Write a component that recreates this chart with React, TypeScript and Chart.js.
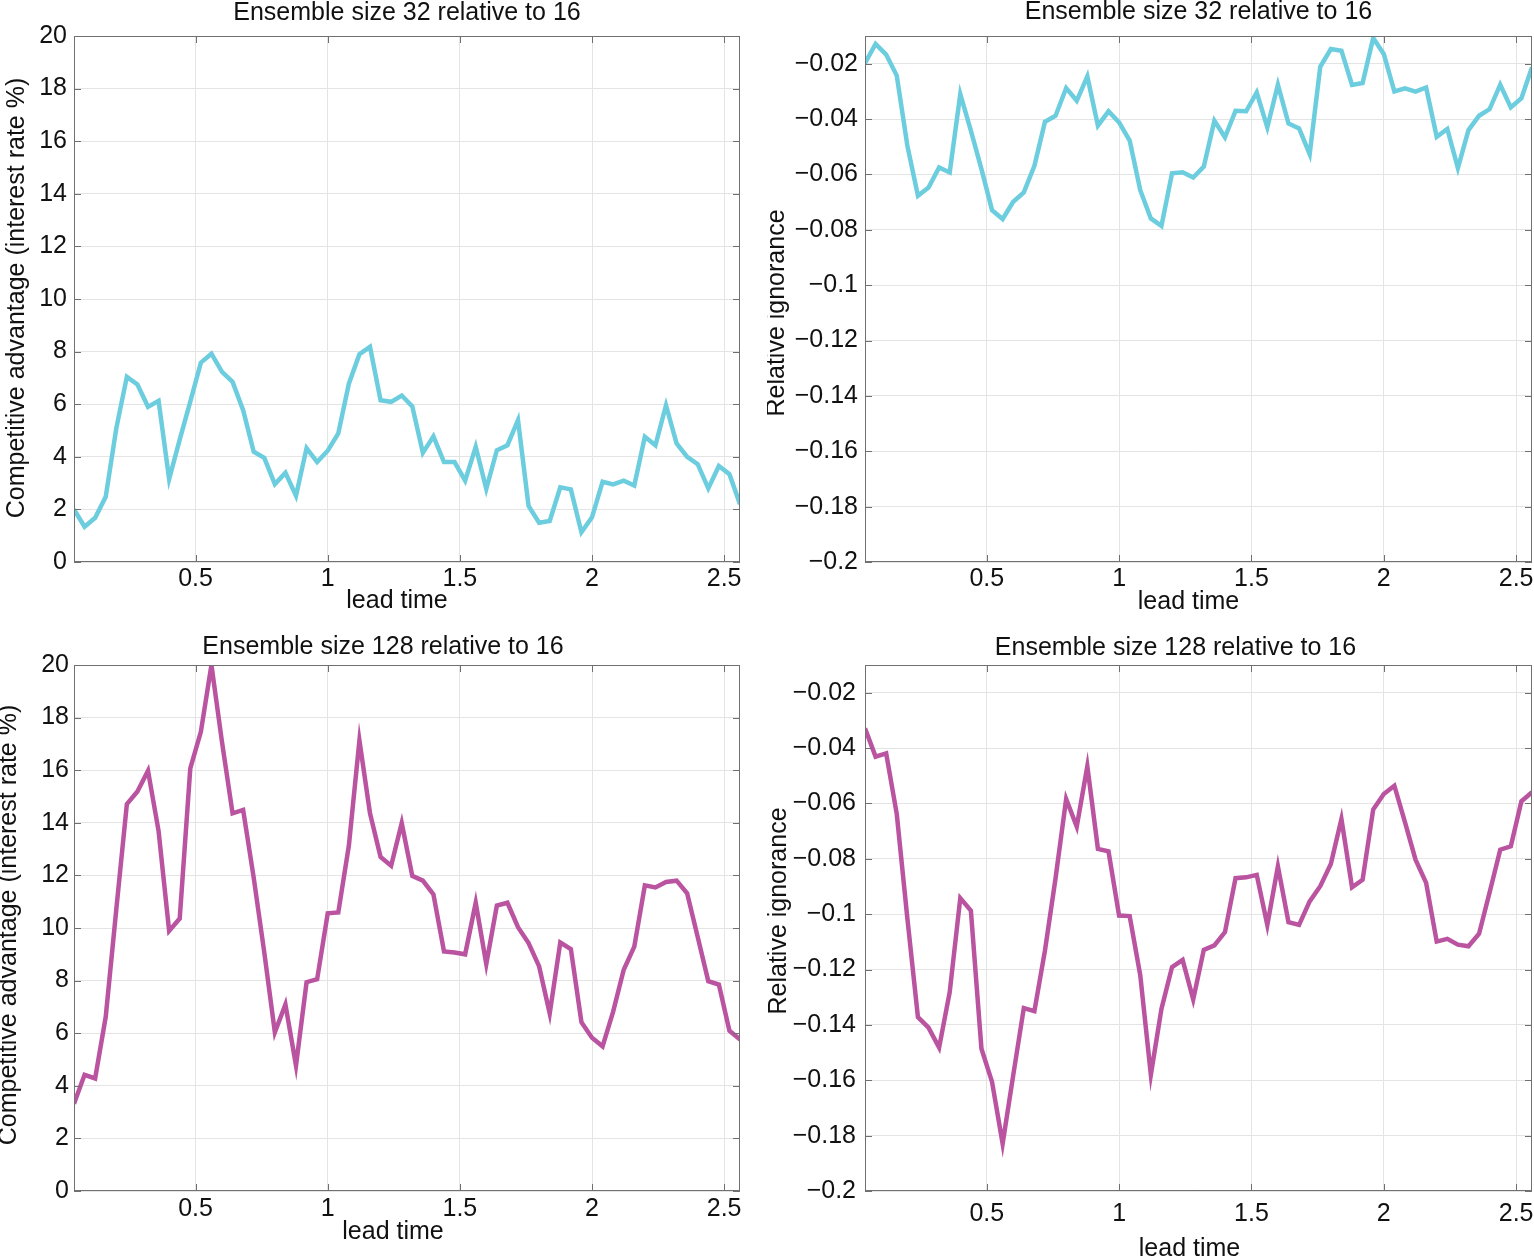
import React, { useEffect, useRef } from 'react';
import { Chart, registerables } from 'chart.js';

Chart.register(...registerables);

// ---------- data ----------
const leadTime = [
  0.04, 0.08, 0.12, 0.16, 0.2, 0.24, 0.28, 0.32, 0.36, 0.4,
  0.44, 0.48, 0.52, 0.56, 0.6, 0.64, 0.68, 0.72, 0.76, 0.8,
  0.84, 0.88, 0.92, 0.96, 1.0, 1.04, 1.08, 1.12, 1.16, 1.2,
  1.24, 1.28, 1.32, 1.36, 1.4, 1.44, 1.48, 1.52, 1.56, 1.6,
  1.64, 1.68, 1.72, 1.76, 1.8, 1.84, 1.88, 1.92, 1.96, 2.0,
  2.04, 2.08, 2.12, 2.16, 2.2, 2.24, 2.28, 2.32, 2.36, 2.4,
  2.44, 2.48, 2.52, 2.56,
];

const advantage32 = [
  2.0, 1.34, 1.68, 2.48, 5.08, 7.04, 6.75, 5.9, 6.13, 3.15,
  4.65, 6.1, 7.58, 7.92, 7.23, 6.85, 5.77, 4.19, 3.96, 2.96,
  3.39, 2.52, 4.33, 3.8, 4.23, 4.89, 6.78, 7.9, 8.18, 6.15,
  6.09, 6.33, 5.92, 4.15, 4.78, 3.8, 3.8, 3.09, 4.38, 2.78,
  4.25, 4.44, 5.39, 2.13, 1.49, 1.56, 2.84, 2.76, 1.13, 1.7,
  3.05, 2.95, 3.09, 2.91, 4.76, 4.44, 5.96, 4.51, 4.0, 3.72,
  2.8, 3.65, 3.34, 2.2,
];

const ignorance32 = [
  -0.0198, -0.0129, -0.0167, -0.0243, -0.0496, -0.0677, -0.0647, -0.0575, -0.0593, -0.031,
  -0.0442, -0.0581, -0.0729, -0.0761, -0.0699, -0.0665, -0.0569, -0.041, -0.0388, -0.0288,
  -0.0334, -0.0246, -0.0424, -0.0372, -0.0412, -0.0478, -0.0657, -0.0759, -0.0786, -0.0596,
  -0.0592, -0.0611, -0.0572, -0.0406, -0.0466, -0.037, -0.0372, -0.0304, -0.043, -0.0276,
  -0.0416, -0.0434, -0.0527, -0.0211, -0.0147, -0.0153, -0.0277, -0.027, -0.0107, -0.0165,
  -0.03, -0.0289, -0.0301, -0.0286, -0.0464, -0.0436, -0.0577, -0.044, -0.0388, -0.0364,
  -0.0276, -0.0358, -0.0325, -0.0213,
];

const advantage128 = [
  3.32, 4.42, 4.28, 6.62, 10.7, 14.71, 15.19, 15.98, 13.69, 9.89,
  10.36, 16.07, 17.46, 20.0, 17.07, 14.36, 14.49, 11.91, 9.07, 6.03,
  7.09, 4.77, 7.94, 8.05, 10.56, 10.59, 13.13, 17.13, 14.36, 12.7,
  12.37, 13.99, 11.98, 11.8, 11.28, 9.11, 9.07, 9.0, 10.96, 8.63,
  10.85, 10.96, 10.03, 9.43, 8.54, 6.75, 9.45, 9.2, 6.42, 5.83,
  5.5, 6.82, 8.41, 9.29, 11.62, 11.54, 11.75, 11.8, 11.32, 9.66,
  7.98, 7.85, 6.09, 5.76,
];

const ignorance128 = [
  -0.0329, -0.0431, -0.0419, -0.0638, -0.1015, -0.1372, -0.141, -0.1482, -0.1282, -0.0942,
  -0.0987, -0.1486, -0.1606, -0.1829, -0.1582, -0.1339, -0.135, -0.1131, -0.087, -0.0584,
  -0.0684, -0.0466, -0.0764, -0.0773, -0.1005, -0.1007, -0.1221, -0.158, -0.1342, -0.1191,
  -0.1165, -0.1308, -0.1129, -0.1113, -0.1065, -0.087, -0.0867, -0.0858, -0.1039, -0.0827,
  -0.1029, -0.1039, -0.0954, -0.0899, -0.0819, -0.0656, -0.0903, -0.0876, -0.0622, -0.0566,
  -0.0536, -0.0668, -0.0803, -0.0887, -0.1099, -0.1089, -0.111, -0.1116, -0.1071, -0.0921,
  -0.0767, -0.0755, -0.0592, -0.056,
];

const ticksLeadTime = [0.5, 1, 1.5, 2, 2.5];
const ticksAdvantage = [0, 2, 4, 6, 8, 10, 12, 14, 16, 18, 20];
const ticksIgnorance = [-0.2, -0.18, -0.16, -0.14, -0.12, -0.1, -0.08, -0.06, -0.04, -0.02];

const title32 = 'Ensemble size 32 relative to 16';
const title128 = 'Ensemble size 128 relative to 16';
const labelAdvantage = 'Competitive advantage (interest rate %)';
const labelIgnorance = 'Relative ignorance';
const labelLeadTime = 'lead time';

// ---------- styles ----------
const FONT = '"Liberation Sans", Arial, Helvetica, sans-serif';
const TEXT = '#111111';
const CYAN = '#6ccdde';
const MAGENTA = '#ba53a0';
const GRID = '#e4e4e4';
const FRAME = '#707070';
const FS = 25;

const minusFmt = (v: number) => (v < 0 ? '\u2212' + String(Math.abs(v)) : String(v));

const framePlugin = {
  id: 'frameBox',
  afterDraw(chart: any) {
    const { ctx, chartArea: a, scales } = chart;
    const xs = scales.x;
    const ys = scales.y;
    const tl = 7;
    ctx.save();
    ctx.strokeStyle = FRAME;
    ctx.lineWidth = 1;
    ctx.strokeRect(a.left + 0.5, a.top + 0.5, a.right - a.left - 1, a.bottom - a.top - 1);
    ctx.beginPath();
    xs.ticks.forEach((t: any) => {
      const px = Math.round(xs.getPixelForValue(t.value)) + 0.5;
      ctx.moveTo(px, a.bottom);
      ctx.lineTo(px, a.bottom - tl);
      ctx.moveTo(px, a.top);
      ctx.lineTo(px, a.top + tl);
    });
    ys.ticks.forEach((t: any) => {
      const py = Math.round(ys.getPixelForValue(t.value)) + 0.5;
      ctx.moveTo(a.left, py);
      ctx.lineTo(a.left + tl, py);
      ctx.moveTo(a.right, py);
      ctx.lineTo(a.right - tl, py);
    });
    ctx.stroke();
    ctx.restore();
  },
};

const axisLabelPlugin = {
  id: 'axisLabels',
  afterDraw(chart: any, _args: any, opts: any) {
    const { ctx, chartArea: a } = chart;
    const cx = (a.left + a.right) / 2;
    ctx.save();
    ctx.font = `${FS}px ${FONT}`;
    ctx.fillStyle = TEXT;
    ctx.textAlign = 'center';
    ctx.textBaseline = 'middle';
    // title
    ctx.fillText(opts.title, cx + opts.titleDx, opts.titleY);
    // x-axis label
    ctx.fillText(opts.xText, cx + opts.xDx, opts.xY);
    // y-axis label
    ctx.translate(opts.yX, (a.top + a.bottom) / 2 + opts.yDy);
    ctx.rotate(-Math.PI / 2);
    ctx.fillText(opts.yText, 0, 0);
    ctx.restore();
  },
};

type PanelProps = {
  left: number; top: number; width: number; height: number;
  values: number[]; color: string;
  yMin: number; yMax: number; yTicks: number[]; yFmt: (v: number) => string;
  title: string; yLabel: string;
  yAxisWidth: number; padRight: number; padTop: number;
  titleY: number; titleDx: number;
  xAxisHeight: number; xTickPad: number;
  xLabelY: number; xLabelDx: number;
  yTickPad: number; yLabelX: number; yLabelDy: number;
};

function Panel(p: PanelProps) {
  const ref = useRef<HTMLCanvasElement | null>(null);
  useEffect(() => {
    if (!ref.current) return;
    const chart = new Chart(ref.current, {
      type: 'line',
      data: {
        datasets: [
          {
            data: leadTime.map((t, i) => ({ x: t, y: p.values[i] })),
            borderColor: p.color,
            borderWidth: 4.5,
            pointRadius: 0,
            fill: false,
            tension: 0,
          },
        ],
      },
      options: {
        animation: false,
        responsive: false,
        devicePixelRatio: 1,
        events: [],
        layout: { padding: { left: 0, right: p.padRight, top: p.padTop, bottom: 0 } },
        plugins: {
          legend: { display: false },
          tooltip: { enabled: false },
          title: { display: false },
          axisLabels: {
            title: p.title, titleY: p.titleY, titleDx: p.titleDx,
            xText: labelLeadTime, xY: p.xLabelY, xDx: p.xLabelDx,
            yText: p.yLabel, yX: p.yLabelX, yDy: p.yLabelDy,
          },
        } as any,
        scales: {
          x: {
            type: 'linear',
            min: leadTime[0],
            max: leadTime[leadTime.length - 1],
            afterBuildTicks: (s: any) => {
              s.ticks = ticksLeadTime.map((value) => ({ value }));
            },
            afterFit: (s: any) => {
              s.height = p.xAxisHeight;
              s.paddingLeft = 0;
              s.paddingRight = 0;
            },
            grid: { color: GRID, lineWidth: 1, drawTicks: false },
            border: { display: false },
            ticks: {
              color: TEXT,
              font: { family: FONT, size: FS },
              padding: p.xTickPad,
              maxRotation: 0,
              autoSkip: false,
              callback: (v: any) => String(v),
            },
          },
          y: {
            type: 'linear',
            min: p.yMin,
            max: p.yMax,
            afterBuildTicks: (s: any) => {
              s.ticks = p.yTicks.map((value) => ({ value }));
            },
            afterFit: (s: any) => {
              s.width = p.yAxisWidth;
              s.paddingTop = 0;
              s.paddingBottom = 0;
            },
            grid: { color: GRID, lineWidth: 1, drawTicks: false },
            border: { display: false },
            ticks: {
              color: TEXT,
              font: { family: FONT, size: FS },
              padding: p.yTickPad,
              autoSkip: false,
              callback: (v: any) => p.yFmt(Number(v)),
            },
          },
        },
      },
      plugins: [framePlugin, axisLabelPlugin],
    } as any);
    return () => chart.destroy();
  }, []);
  return (
    <canvas
      ref={ref}
      width={p.width}
      height={p.height}
      style={{ position: 'absolute', left: p.left, top: p.top, width: p.width, height: p.height }}
    />
  );
}

export default function App() {
  return (
    <div
      style={{
        position: 'fixed', left: 0, top: 0, width: 1534, height: 1259,
        background: '#ffffff', overflow: 'hidden',
      }}
    >
      <Panel
        left={0} top={0} width={767} height={620}
        values={advantage32} color={CYAN}
        yMin={0} yMax={20} yTicks={ticksAdvantage} yFmt={(v) => String(v)}
        title={title32} yLabel={labelAdvantage}
        yAxisWidth={74} padRight={27} padTop={36}
        titleY={13} titleDx={0}
        xAxisHeight={58} xTickPad={2.4}
        xLabelY={601} xLabelDx={-10}
        yTickPad={7} yLabelX={17} yLabelDy={-1}
      />
      <Panel
        left={767} top={0} width={767} height={620}
        values={ignorance32} color={CYAN}
        yMin={-0.2} yMax={-0.01} yTicks={ticksIgnorance} yFmt={minusFmt}
        title={title32} yLabel={labelIgnorance}
        yAxisWidth={98} padRight={2} padTop={36}
        titleY={12} titleDx={0}
        xAxisHeight={58} xTickPad={2.4}
        xLabelY={602} xLabelDx={-10}
        yTickPad={7} yLabelX={10} yLabelDy={14}
      />
      <Panel
        left={0} top={620} width={767} height={639}
        values={advantage128} color={MAGENTA}
        yMin={0} yMax={20} yTicks={ticksAdvantage} yFmt={(v) => String(v)}
        title={title128} yLabel={labelAdvantage}
        yAxisWidth={74} padRight={27} padTop={45}
        titleY={27} titleDx={-24}
        xAxisHeight={68} xTickPad={3.4}
        xLabelY={612} xLabelDx={-14}
        yTickPad={5} yLabelX={9.6} yLabelDy={-3}
      />
      <Panel
        left={767} top={620} width={767} height={639}
        values={ignorance128} color={MAGENTA}
        yMin={-0.2} yMax={-0.01} yTicks={ticksIgnorance} yFmt={minusFmt}
        title={title128} yLabel={labelIgnorance}
        yAxisWidth={98} padRight={2} padTop={45}
        titleY={28} titleDx={-23}
        xAxisHeight={68} xTickPad={8.4}
        xLabelY={629} xLabelDx={-9}
        yTickPad={9} yLabelX={12.5} yLabelDy={-17}
      />
    </div>
  );
}
